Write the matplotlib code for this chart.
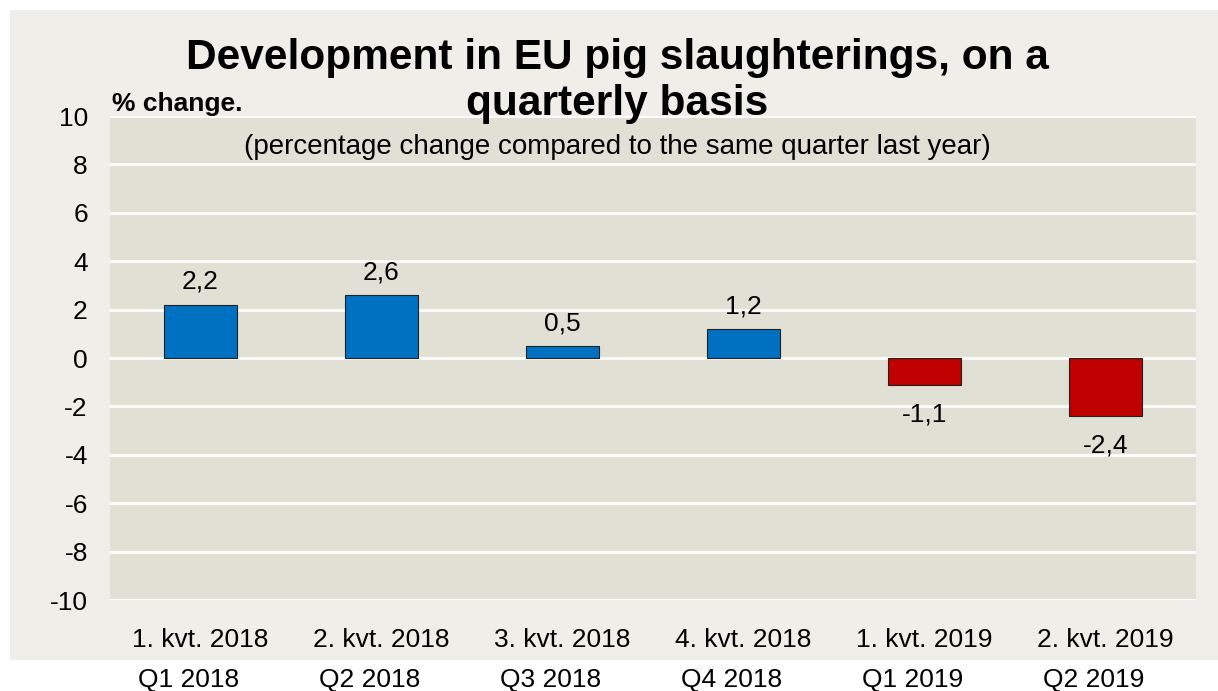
import matplotlib.pyplot as plt
from matplotlib.patches import Rectangle

quarters_dk = ["1. kvt. 2018", "2. kvt. 2018", "3. kvt. 2018", "4. kvt. 2018", "1. kvt. 2019", "2. kvt. 2019"]
quarters_en = ["Q1 2018", "Q2 2018", "Q3 2018", "Q4 2018", "Q1 2019", "Q2 2019"]
change = [2.2, 2.6, 0.5, 1.2, -1.1, -2.4]

plt.rcParams['font.family'] = ['Liberation Sans', 'DejaVu Sans']

W, H = 1218, 691
fig = plt.figure(figsize=(W / 100, H / 100), dpi=100)
fig.patch.set_facecolor("white")

# beige chart panel
fig.patches.append(Rectangle((10 / W, 1 - 660 / H), (W - 10) / W, 650 / H,
                             transform=fig.transFigure, facecolor="#efeee8",
                             edgecolor="none", zorder=-10))

ax = fig.add_axes([110 / W, 1 - 600 / H, 1086 / W, 484 / H])
ax.set_facecolor("#e0e0d5")

fs = 19
x = list(range(len(change)))
colors = ["#0070c0" if v >= 0 else "#c00000" for v in change]
ax.bar(x, change, width=0.4, color=colors, edgecolor="#222222", linewidth=0.8, zorder=3)

for xi, v in zip(x, change):
    label = f"{v:.1f}".replace(".", ",")
    if v >= 0:
        ax.text(xi, v + 0.45, label, ha="center", va="bottom", fontsize=fs)
    else:
        ax.text(xi, v - 0.72, label, ha="center", va="top", fontsize=fs)

ax.set_xlim(-0.5, len(change) - 0.5)
ax.set_ylim(-10, 10)
ax.set_yticks(range(-10, 11, 2))
ax.set_yticklabels([str(t) for t in range(-10, 11, 2)], fontsize=fs)
ax.set_xticks(x)
ax.set_xticklabels(quarters_dk, fontsize=fs)
ax.tick_params(length=0, axis="both")
ax.tick_params(axis="x", pad=20)
ax.tick_params(axis="y", pad=16)
ax.grid(axis="y", color="white", linewidth=2, zorder=1)
ax.set_axisbelow(True)
for s in ax.spines.values():
    s.set_visible(False)

# English quarter names, sitting a little left of the Danish ones
for xi, lab in zip(x, quarters_en):
    ax.text(xi - 0.068, -13.3, lab, ha="center", va="center", fontsize=fs)

fig.text(617 / W, 1 - 58 / H, "Development in EU pig slaughterings, on a",
         ha="center", va="center", fontsize=30.5, fontweight="bold")
fig.text(617 / W, 1 - 104 / H, "quarterly basis",
         ha="center", va="center", fontsize=30.5, fontweight="bold")
fig.text(112 / W, 1 - 104 / H, "% change.", ha="left", va="center", fontsize=19, fontweight="bold")
fig.text(617 / W, 1 - 147 / H, "(percentage change compared to the same quarter last year)",
         ha="center", va="center", fontsize=20)

fig.savefig("out.png", dpi=100)
